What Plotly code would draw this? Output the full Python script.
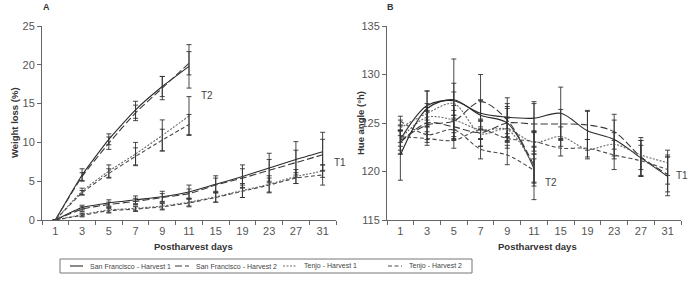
import plotly.graph_objects as go

days = ["1", "3", "5", "7", "9", "11", "15", "19", "23", "27", "31"]
days_t2 = days[:6]
series_names = ["San Francisco - Harvest 1", "San Francisco - Harvest 2",
                "Tenjo - Harvest 1", "Tenjo - Harvest 2"]

# Panel A: weight loss (%)
wl_t1 = {
    "sf1": [0, 1.6, 2.2, 2.6, 3.0, 3.6, 4.6, 5.6, 6.7, 7.8, 8.8],
    "sf2": [0, 1.4, 2.0, 2.4, 2.9, 3.4, 4.5, 5.4, 6.4, 7.4, 8.4],
    "tj1": [0, 0.7, 1.3, 1.5, 1.8, 2.3, 3.0, 3.8, 4.6, 5.6, 6.3],
    "tj2": [0, 0.6, 1.2, 1.4, 1.7, 2.2, 2.9, 3.7, 4.5, 5.4, 5.8],
}
wl_t1_err = {
    "sf1": [0, 0.3, 0.4, 0.5, 0.7, 0.9, 1.1, 1.5, 1.9, 2.3, 2.5],
    "sf2": [0, 0.3, 0.3, 0.4, 0.5, 0.6, 0.9, 1.2, 1.4, 1.6, 2.0],
    "tj1": [0, 0.2, 0.3, 0.3, 0.4, 0.5, 0.7, 0.9, 1.1, 0.9, 0.8],
    "tj2": [0, 0.2, 0.3, 0.3, 0.4, 0.5, 0.6, 0.8, 0.9, 0.7, 1.3],
}
wl_t2 = {
    "sf1": [0, 5.8, 10.4, 14.2, 17.2, 19.8],
    "sf2": [0, 5.6, 9.9, 13.8, 17.0, 20.2],
    "tj1": [0, 3.7, 6.3, 8.5, 10.9, 13.4],
    "tj2": [0, 3.5, 6.0, 8.2, 10.3, 12.3],
}
wl_t2_err = {
    "sf1": [0, 0.8, 0.7, 1.1, 1.3, 2.8],
    "sf2": [0, 0.5, 0.8, 1.0, 1.5, 1.5],
    "tj1": [0, 0.4, 0.8, 1.5, 2.0, 2.5],
    "tj2": [0, 0.3, 0.6, 1.1, 1.4, 1.3],
}

# Panel B: hue angle (°h)
hue_t1 = {
    "sf1": [123.3, 126.8, 127.3, 126.0, 125.6, 125.5, 126.0, 124.2, 123.3, 121.4, 119.5],
    "sf2": [123.0, 125.0, 124.6, 124.0, 125.0, 124.9, 124.9, 124.8, 124.1, 121.5, 119.7],
    "tj1": [123.4, 125.6, 125.3, 124.3, 124.4, 123.0, 123.6, 122.3, 122.8, 121.7, 120.9],
    "tj2": [123.6, 123.4, 123.2, 124.3, 123.4, 123.1, 122.4, 122.4, 121.7, 121.1, 120.2],
}
hue_t1_err = {
    "sf1": [1.5, 1.5, 1.8, 1.4, 2.0, 1.5, 2.7, 2.0, 2.0, 1.8, 2.0],
    "sf2": [1.2, 1.2, 1.2, 1.4, 1.5, 2.3, 1.5, 1.5, 1.8, 2.0, 1.8],
    "tj1": [0.8, 1.0, 1.0, 1.0, 1.2, 1.2, 1.0, 1.0, 1.2, 1.5, 1.3],
    "tj2": [0.6, 0.7, 0.8, 0.9, 1.0, 1.0, 0.8, 0.9, 1.5, 1.6, 1.5],
}
hue_t2 = {
    "sf1": [121.7, 126.5, 127.4, 125.8, 125.0, 120.3],
    "sf2": [123.2, 124.8, 125.2, 127.2, 125.3, 120.6],
    "tj1": [124.5, 126.0, 127.0, 123.9, 124.3, 120.5],
    "tj2": [125.2, 123.8, 124.3, 122.3, 121.7, 120.1],
}
hue_t2_err = {
    "sf1": [2.6, 1.8, 4.2, 1.5, 2.0, 1.5],
    "sf2": [1.0, 1.5, 1.6, 2.8, 1.4, 3.5],
    "tj1": [0.8, 1.0, 1.2, 1.3, 1.2, 2.0],
    "tj2": [0.5, 0.8, 1.0, 1.0, 1.0, 1.2],
}

keys = ["sf1", "sf2", "tj1", "tj2"]
styles = {
    "sf1": dict(color="#2a2a2a", dash="solid", width=1.1),
    "sf2": dict(color="#3a3a3a", dash="7px,3px", width=1.1),
    "tj1": dict(color="#6a6a6a", dash="2px,1.5px", width=1.1),
    "tj2": dict(color="#4a4a4a", dash="4px,2.5px", width=1.1),
}
FONT = "Liberation Sans, Arial, sans-serif"
W, H = 689, 287

fig = go.Figure()

def add(x, y, err, key, xa, ya, smooth):
    fig.add_trace(go.Scatter(
        x=x, y=y, mode="lines", name=series_names[keys.index(key)],
        line=dict(shape="spline", smoothing=smooth, **styles[key]),
        error_y=dict(type="data", array=err, visible=True, color="#333333",
                     thickness=0.9, width=2.5),
        xaxis=xa, yaxis=ya, showlegend=False, legendgroup=key,
    ))

for k in keys:
    add(days, wl_t1[k], wl_t1_err[k], k, "x", "y", 0.5)
for k in keys:
    add(days_t2, wl_t2[k], wl_t2_err[k], k, "x", "y", 0.5)
for k in keys:
    add(days, hue_t1[k], hue_t1_err[k], k, "x2", "y2", 0.9)
for k in keys:
    add(days_t2, hue_t2[k], hue_t2_err[k], k, "x2", "y2", 0.9)

def px(x):
    return x / W

def py(y):
    return 1 - y / H

y_dom = [py(220), py(26)]
xcommon = dict(type="category", categoryorder="array", categoryarray=days,
               range=[-0.5, 10.5], showline=True, linecolor="#666666", linewidth=1,
               ticks="outside", tickson="boundaries", ticklen=4, tickcolor="#666666",
               showgrid=False, zeroline=False, automargin=False, ticklabelstandoff=1,
               tickfont=dict(family=FONT, size=11, color="#555555"))
ycommon = dict(showline=True, linecolor="#666666", linewidth=1, ticks="outside",
               ticklen=4, tickcolor="#666666", showgrid=False, zeroline=False,
               automargin=False, dtick=5,
               tickfont=dict(family=FONT, size=11, color="#555555"))

fig.update_layout(
    width=W, height=H,
    margin=dict(l=0, r=0, t=0, b=0),
    paper_bgcolor="white", plot_bgcolor="white",
    xaxis=dict(domain=[px(42), px(336)], anchor="y", **xcommon),
    yaxis=dict(domain=y_dom, anchor="x", range=[0, 25], **ycommon),
    xaxis2=dict(domain=[px(387), px(681)], anchor="y2", **xcommon),
    yaxis2=dict(domain=y_dom, anchor="x2", range=[115, 135], **ycommon),
    showlegend=False,
    font=dict(family=FONT),
)

title_font = dict(family=FONT, size=9.5, color="#333333", weight="bold")
lab_font = dict(family=FONT, size=10, color="#444444")
leg_font = dict(family=FONT, size=7, color="#444444")
ann = [
    dict(text="A", x=px(46), y=py(7), xref="paper", yref="paper",
         xanchor="center", yanchor="middle", showarrow=False,
         font=dict(family=FONT, size=9, color="#333333", weight="bold")),
    dict(text="B", x=px(390), y=py(7), xref="paper", yref="paper",
         xanchor="center", yanchor="middle", showarrow=False,
         font=dict(family=FONT, size=9, color="#333333", weight="bold")),
    dict(text="Weight loss (%)", x=px(14), y=py(123), xref="paper", yref="paper",
         xanchor="center", yanchor="middle", textangle=-90, showarrow=False, font=title_font),
    dict(text="Hue angle (°h)", x=px(360), y=py(123), xref="paper", yref="paper",
         xanchor="center", yanchor="middle", textangle=-90, showarrow=False, font=title_font),
    dict(text="Postharvest days", x=px(193), y=py(246), xref="paper", yref="paper",
         xanchor="center", yanchor="middle", showarrow=False, font=title_font),
    dict(text="Postharvest days", x=px(537), y=py(246), xref="paper", yref="paper",
         xanchor="center", yanchor="middle", showarrow=False, font=title_font),
    dict(text="T2", x=5.36, y=16.1, xref="x", yref="y", xanchor="left", showarrow=False,
         font=lab_font),
    dict(text="T1", x=10.35, y=7.35, xref="x", yref="y", xanchor="left", showarrow=False,
         font=lab_font),
    dict(text="T2", x=5.34, y=118.9, xref="x2", yref="y2", xanchor="left", showarrow=False,
         font=lab_font),
    dict(text="T1", x=10.25, y=119.6, xref="x2", yref="y2", xanchor="left", showarrow=False,
         font=lab_font),
]

# legend box drawn with shapes + text
shapes = [dict(type="rect", xref="paper", yref="paper", x0=px(60), x1=px(472),
               y0=py(273), y1=py(259), line=dict(color="#777777", width=1))]
leg_sample_x = [(70, 83), (175, 189), (283, 297), (388, 402)]
leg_text_x = [88, 194, 302, 407]
for k, (a, b), tx in zip(keys, leg_sample_x, leg_text_x):
    st = styles[k]
    shapes.append(dict(type="line", xref="paper", yref="paper", x0=px(a), x1=px(b),
                       y0=py(266), y1=py(266),
                       line=dict(color=st["color"], width=st["width"], dash=st["dash"])))
    ann.append(dict(text=series_names[keys.index(k)], x=px(tx), y=py(266),
                    xref="paper", yref="paper", xanchor="left", yanchor="middle",
                    showarrow=False, font=leg_font))

fig.update_layout(annotations=ann, shapes=shapes)

fig.write_html("out.html", config={"displayModeBar": False},
               post_script="document.body.style.margin='0';")
